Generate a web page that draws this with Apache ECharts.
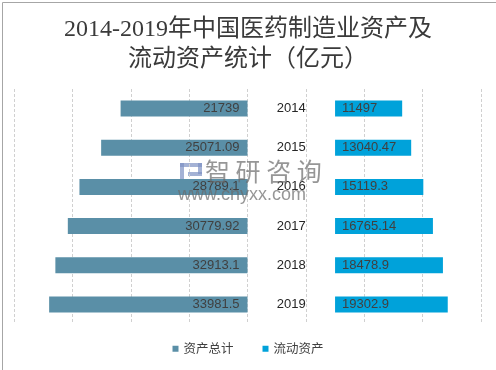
<!DOCTYPE html>
<html><head><meta charset="utf-8">
<script src="https://cdn.jsdelivr.net/npm/echarts@6/dist/echarts.min.js"></script>
<style>html,body{margin:0;padding:0;background:#fff}#c{width:496px;height:370px}</style>
</head><body><div id="c"></div>
<script>
var years = ['2014','2015','2016','2017','2018','2019'];
var totalAssets = [21739, 25071.09, 28789.1, 30779.92, 32913.1, 33981.5];
var currentAssets = [11497, 13040.47, 15119.3, 16765.14, 18478.9, 19302.9];
var seriesNames = ['资产总计', '流动资产'];
var titleText = '2014-2019年中国医药制造业资产及\n流动资产统计（亿元）';

var GAP = 15000; // invisible spacer in the middle holding the year labels
var chart = echarts.init(document.getElementById('c'), null, {renderer: 'canvas'});
var numFont = 'Liberation Sans, Arial, sans-serif';
var wm = 'rgba(105,105,105,0.7)';
chart.setOption({
  animation: false,
  backgroundColor: '#fff',
  title: {
    text: titleText, left: 'center', top: 10,
    textStyle: {fontSize: 24, lineHeight: 30, fontWeight: 'normal', color: '#3a3a3a',
      fontFamily: '"Liberation Serif","Noto Sans CJK SC",serif'}
  },
  legend: {
    data: seriesNames, bottom: 10, left: 'center', icon: 'rect', itemWidth: 6, itemHeight: 6,
    itemGap: 29,
    textStyle: {fontSize: 12.5, color: '#404040', fontFamily: '"Noto Sans CJK SC",sans-serif'}
  },
  grid: {left: 14, right: 15, top: 89, height: 235, containLabel: false},
  xAxis: {
    type: 'value', min: -40000, max: 40000, interval: 10000,
    axisLabel: {show: false}, axisLine: {show: false}, axisTick: {show: false},
    splitLine: {show: true, lineStyle: {color: '#d0d0d0', type: [3, 2], width: 1}}
  },
  yAxis: {
    type: 'category', data: years, inverse: true,
    axisLabel: {show: false}, axisLine: {show: false}, axisTick: {show: false}
  },
  series: [
    {
      name: seriesNames[0], type: 'bar', stack: 's', barWidth: 16,
      data: totalAssets.map(function (v) { return -v; }),
      itemStyle: {color: '#5a8fa7'},
      label: {show: true, position: 'insideRight', distance: 8, color: '#404040', fontSize: 13,
        fontFamily: numFont, formatter: function (p) { return totalAssets[p.dataIndex]; }}
    },
    {
      name: 'gap', type: 'bar', stack: 's', barWidth: 16,
      data: years.map(function () { return GAP; }),
      itemStyle: {color: 'rgba(0,0,0,0)'},
      label: {show: true, position: 'inside', color: '#262626', fontSize: 13, fontFamily: numFont,
        formatter: function (p) { return years[p.dataIndex]; }},
      silent: true
    },
    {
      name: seriesNames[1], type: 'bar', stack: 's', barWidth: 16,
      data: currentAssets,
      itemStyle: {color: '#00a2da'},
      label: {show: true, position: 'insideLeft', distance: 7, color: '#404040', fontSize: 13,
        fontFamily: numFont, formatter: function (p) { return currentAssets[p.dataIndex]; }}
    }
  ],
  graphic: [
    {type: 'rect', left: 0, top: 0, z: 100, silent: true,
      shape: {x: 0.5, y: 0.5, width: 495, height: 369},
      style: {fill: 'none', stroke: '#a6a6a6', lineWidth: 1}},
    {type: 'text', left: 205, top: 159, z: 100, silent: true,
      style: {text: '智 研 咨 询', fill: wm, font: '25px "Noto Sans CJK SC", sans-serif'}},
    {type: 'text', x: 178, y: 186, z: 100, silent: true,
      style: {text: 'www.chyxx.com', fill: wm, fontSize: 18,
        fontFamily: '"Liberation Sans", sans-serif'}},
    {type: 'group', x: 180, y: 163, z: 100, silent: true, children: [
      {type: 'rect', shape: {x: 0, y: 0, width: 22, height: 4}, style: {fill: 'rgba(125,145,195,0.7)'}},
      {type: 'rect', shape: {x: 0, y: 0, width: 4, height: 22}, style: {fill: 'rgba(125,145,195,0.7)'}},
      {type: 'rect', shape: {x: 18, y: 0, width: 4, height: 11}, style: {fill: 'rgba(125,145,195,0.7)'}},
      {type: 'rect', shape: {x: 8, y: 9, width: 14, height: 4}, style: {fill: 'rgba(125,145,195,0.7)'}},
      {type: 'rect', shape: {x: 8, y: 18, width: 14, height: 4}, style: {fill: 'rgba(125,145,195,0.7)'}}
    ]}
  ]
});
</script></body></html>
